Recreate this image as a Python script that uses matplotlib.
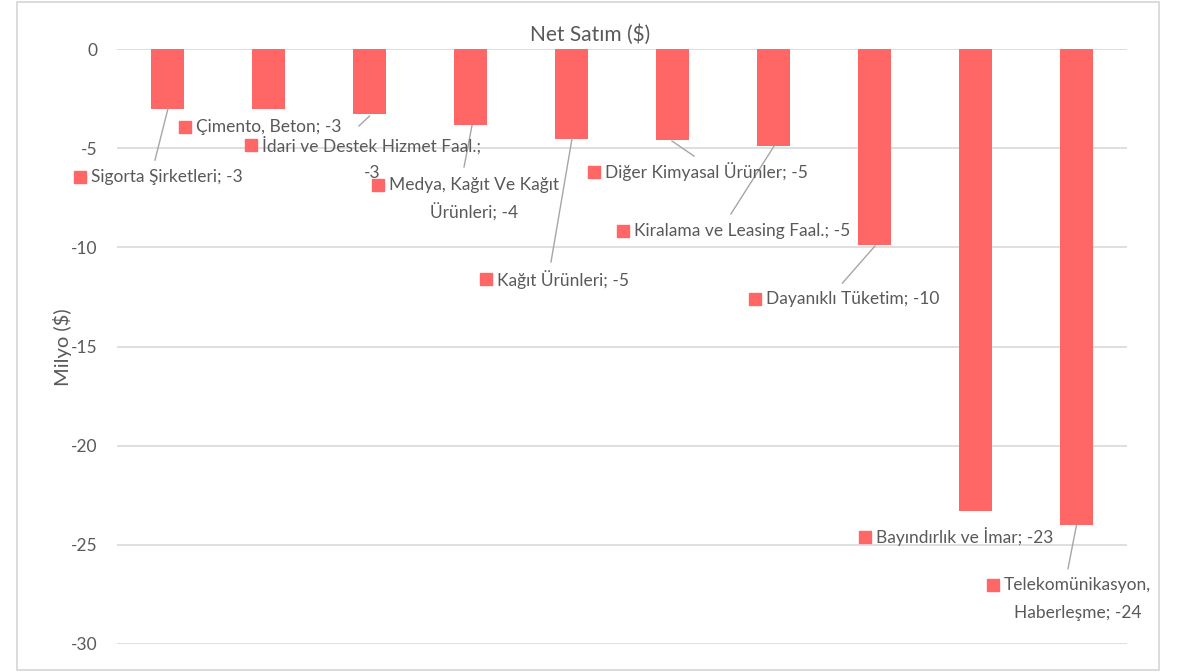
import matplotlib
matplotlib.use("Agg")
import matplotlib.pyplot as plt
from matplotlib.patches import Rectangle
import numpy as np

plt.rcParams['font.family'] = ['Lato', 'DejaVu Sans']

categories = [
    "Sigorta Şirketleri",
    "Çimento, Beton",
    "İdari ve Destek Hizmet Faal.",
    "Medya, Kağıt Ve Kağıt Ürünleri",
    "Kağıt Ürünleri",
    "Diğer Kimyasal Ürünler",
    "Kiralama ve Leasing Faal.",
    "Dayanıklı Tüketim",
    "Bayındırlık ve İmar",
    "Telekomünikasyon, Haberleşme",
]
values = [-3.0, -3.0, -3.3, -3.85, -4.52, -4.6, -4.87, -9.9, -23.3, -24.0]
yticks = [0, -5, -10, -15, -20, -25, -30]
title = "Net Satım ($)"
ylabel = "Milyo ($)"

# label layout: (square x, square y) in data units, text lines
label_lines = [
    ["Sigorta Şirketleri; -3"],
    ["Çimento, Beton; -3"],
    ["İdari ve Destek Hizmet Faal.;", "-3"],
    ["Medya, Kağıt Ve Kağıt", "Ürünleri; -4"],
    ["Kağıt Ürünleri; -5"],
    ["Diğer Kimyasal Ürünler; -5"],
    ["Kiralama ve Leasing Faal.; -5"],
    ["Dayanıklı Tüketim; -10"],
    ["Bayındırlık ve İmar; -23"],
    ["Telekomünikasyon,", "Haberleşme; -24"],
]
label_pos = [(-0.866, -6.46), (0.173, -3.93), (0.827, -4.84), (2.084, -6.86),
             (3.153, -11.6), (4.223, -6.2), (4.51, -9.18), (5.817, -12.6),
             (6.906, -24.6), (8.173, -27.03)]
leader = [((0.005, -3.0), (-0.124, -5.6)), None, ((2.0, -3.38), (1.896, -3.88)),
          ((3.015, -3.85), (2.936, -5.95)), ((4.005, -4.52), (3.797, -10.74)),
          ((4.995, -4.64), (5.213, -5.40)), ((6.005, -4.9), (5.578, -8.32)),
          ((7.005, -9.93), (6.683, -11.8)), None, ((9.0, -24.0), (8.916, -26.2))]

W, H = 1181, 672
fig = plt.figure(figsize=(W / 100, H / 100), dpi=100)
fig.patches.append(Rectangle((17 / W, 1 - 670 / H), (1159 - 17) / W, (670 - 2) / H,
                             transform=fig.transFigure, fill=False,
                             edgecolor='#D9D9D9', linewidth=1.3))
ax = fig.add_axes([117 / W, 1 - 644 / H, (1127 - 117) / W, (644 - 49) / H])

bar_color = '#FF6666'
text_color = '#595959'
fs = 12.5
x = np.arange(len(categories))
ax.bar(x, values, width=0.32, color=bar_color, zorder=3)
ax.set_xlim(-0.5, len(categories) - 0.5)
ax.set_ylim(-30, 0)
ax.set_yticks(yticks)
ax.set_yticklabels([str(t) for t in yticks], fontsize=12.5, color=text_color)
ax.set_xticks([])
ax.tick_params(axis='y', length=0, pad=14)
ax.grid(axis='y', color='#D9D9D9', linewidth=1.2, zorder=0)
for s in ax.spines.values():
    s.set_visible(False)

fig.text(590 / W, 1 - 35 / H, title, ha='center', va='center', fontsize=15, color=text_color)
fig.text(62 / W, 1 - 347 / H, ylabel, ha='center', va='center', rotation=90,
         fontsize=14.5, color=text_color)

sq_dx = 0.11
fig.canvas.draw()
for lines, (sx, sy), ld in zip(label_lines, label_pos, leader):
    ax.plot([sx], [sy], marker='s', markersize=8, color=bar_color,
            linestyle='none', zorder=5, clip_on=False)
    t = ax.text(sx + sq_dx, sy, lines[0], ha='left', va='center', fontsize=fs,
                color=text_color, zorder=5, clip_on=False)
    if len(lines) > 1:
        # second line centered under the first line
        r = fig.canvas.get_renderer()
        bb = t.get_window_extent(renderer=r).transformed(ax.transData.inverted())
        cx = (bb.x0 + bb.x1) / 2
        ax.text(cx, sy - 1.4, lines[1], ha='center', va='center', fontsize=fs,
                color=text_color, zorder=5, clip_on=False)
    if ld is not None:
        (x0, y0), (x1, y1) = ld
        ax.plot([x0, x1], [y0, y1], color='#A6A6A6', linewidth=1, zorder=4)

fig.savefig('out.png', dpi=100)
